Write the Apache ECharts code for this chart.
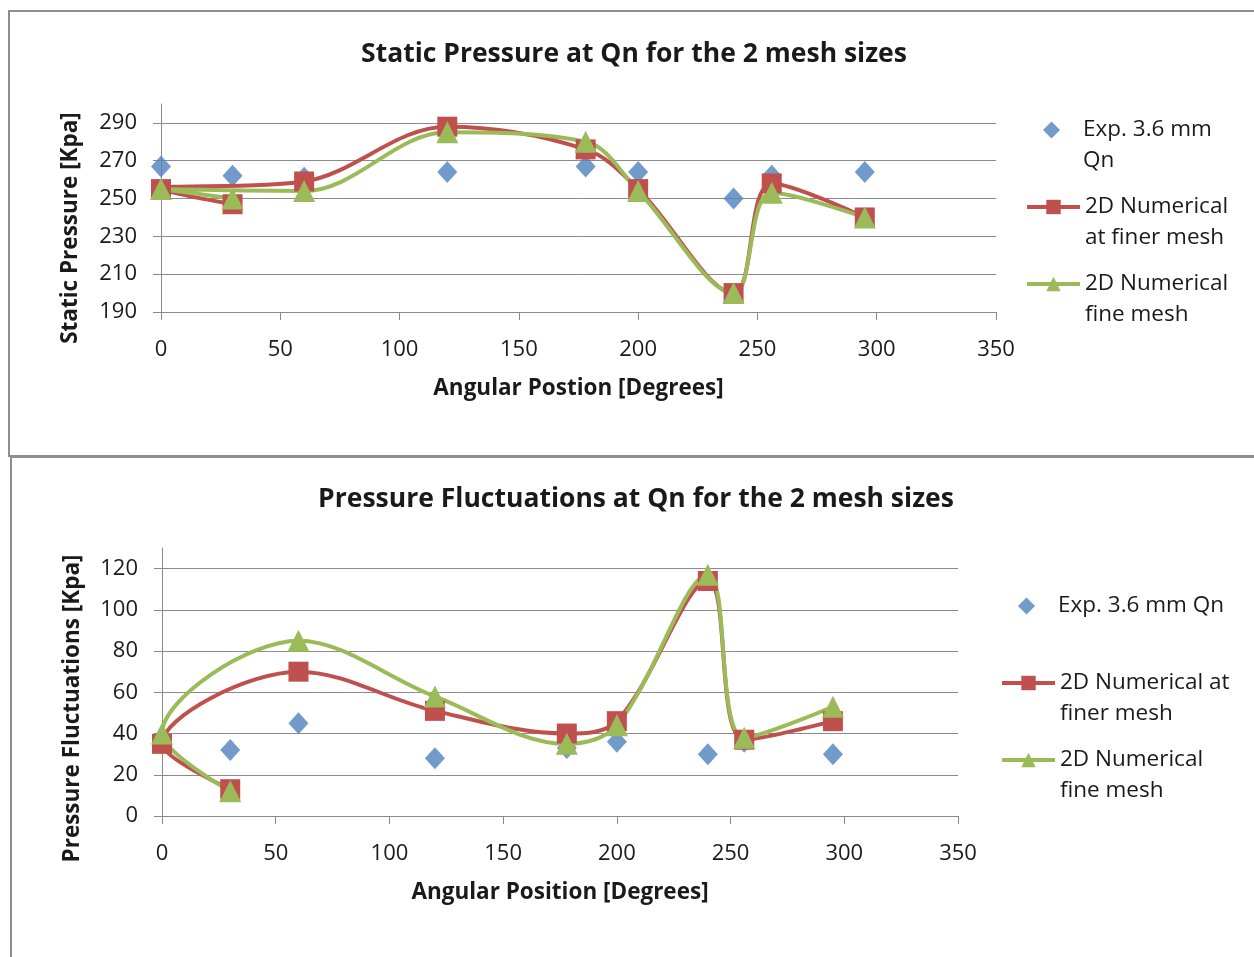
<!DOCTYPE html>
<html>
<head>
<meta charset="utf-8">
<script src="https://cdn.jsdelivr.net/npm/echarts@6/dist/echarts.min.js"></script>
<style>
  html, body { margin: 0; padding: 0; background: #fff; width: 1254px; height: 957px; overflow: hidden; }
  .frame { position: absolute; box-sizing: border-box; border: 2px solid #8e8e8e; background: #fff; }
  #static_chart { left: 8px; top: 10px; width: 1252px; height: 447px; }
  #fluct_chart { left: 10px; top: 456px; width: 1252px; height: 520px; }
</style>
</head>
<body>
<div id="static_chart" class="frame"></div>
<div id="fluct_chart" class="frame"></div>
<script>
// angular positions in the order the points were entered (30 comes first)
var angles = [30, 0, 60, 120, 178, 200, 240, 256, 295];

// static pressure [Kpa]
var static_exp = [262, 267, 261, 264, 267, 264, 250, 262, 264];
var static_finer = [247, 255, 259, 288, 276, 255, 200, 258, 240];
var static_fine = [250, 255, 254, 285, 280, 254, 200, 253, 240];
var static_ticks = [190, 210, 230, 250, 270, 290];

// pressure fluctuations [Kpa]
var fluct_exp = [32, 36, 45, 28, 33, 36, 30, 36, 30];
var fluct_finer = [13, 35, 70, 51, 40, 46, 114, 37, 46];
var fluct_fine = [12, 40, 85, 58, 35, 44, 117, 38, 53];
var fluct_ticks = [0, 20, 40, 60, 80, 100, 120];

var static_names = ['Exp. 3.6 mm\nQn', '2D Numerical\nat finer mesh', '2D Numerical\nfine mesh'];
var fluct_names = ['Exp. 3.6 mm Qn', '2D Numerical at\nfiner mesh', '2D Numerical\nfine mesh'];

var FONT = 'Open Sans';
var TEXT = '#1a1a1a';
var GRAY = '#8a8a8a';

function pairs(values) {
  var out = [];
  for (var i = 0; i < angles.length; i++) {
    out.push([angles[i], values[i]]);
  }
  return out;
}

function loadChart(dom_id, cfg) {
  var legends = [];
  cfg.names.forEach(function (name, i) {
    // the scatter entry gets a small square icon box, text pushed back in line
    var icon_w = i === 0 ? 17 : 53;
    legends.push({
      data: [name],
      orient: 'vertical',
      left: cfg.legendLeft + (53 - icon_w) / 2,
      top: cfg.legendTops[i],
      padding: 0,
      itemWidth: icon_w,
      itemHeight: i === 0 ? 17 : 18,
      selectedMode: false,
      lineStyle: { width: 4 },
      textStyle: {
        fontFamily: FONT, fontSize: 22.5, lineHeight: 31, color: TEXT,
        padding: [0, 0, 0, i === 0 ? (53 - icon_w) / 2 : 0]
      },
      formatter: function (n) {
        return n.indexOf('\n') >= 0 ? '\n' + n : n;
      }
    });
  });

  var option = {
    animation: false,
    title: {
      text: cfg.title,
      left: 'center',
      top: cfg.titleTop,
      textStyle: { fontFamily: FONT, fontSize: 26.5, fontWeight: 'bold', color: TEXT }
    },
    legend: legends,
    grid: cfg.grid,
    xAxis: {
      type: 'value',
      min: 0,
      max: 350,
      interval: 50,
      name: cfg.xName,
      nameLocation: 'middle',
      nameGap: cfg.xNameGap,
      nameTextStyle: { fontFamily: FONT, fontSize: 22.5, fontWeight: 'bold', color: TEXT },
      axisLine: { show: true, lineStyle: { color: GRAY, width: 1 } },
      axisTick: { show: true, inside: false, length: 8, lineStyle: { color: GRAY } },
      axisLabel: { margin: 27, fontFamily: FONT, fontSize: 22, color: TEXT },
      splitLine: { show: false }
    },
    yAxis: {
      type: 'value',
      min: cfg.yMin,
      max: cfg.yMax,
      name: cfg.yName,
      nameLocation: 'middle',
      nameGap: cfg.yNameGap,
      nameTextStyle: { fontFamily: FONT, fontSize: 22.5, fontWeight: 'bold', color: TEXT, padding: [0, cfg.yNameShift, 0, 0] },
      axisLine: { show: true, lineStyle: { color: GRAY, width: 1 } },
      axisTick: { show: true, inside: false, length: 8, customValues: cfg.yTicks, lineStyle: { color: GRAY } },
      axisLabel: { margin: 24, fontFamily: FONT, fontSize: 22, color: TEXT, customValues: cfg.yTicks },
      splitLine: { show: true, lineStyle: { color: GRAY, width: 1 } }
    },
    series: [
      {
        name: cfg.names[0],
        type: 'scatter',
        symbol: 'diamond',
        symbolSize: [20, 22],
        itemStyle: { color: '#4F81BD' },
        data: pairs(cfg.exp)
      },
      {
        name: cfg.names[1],
        type: 'line',
        smooth: 0.35,
        symbol: 'rect',
        symbolSize: 20,
        showSymbol: true,
        lineStyle: { width: 4, color: '#C0504D' },
        itemStyle: { color: '#C0504D' },
        data: pairs(cfg.finer)
      },
      {
        name: cfg.names[2],
        type: 'line',
        smooth: 0.35,
        symbol: 'triangle',
        symbolSize: 22,
        showSymbol: true,
        lineStyle: { width: 4, color: '#9BBB59' },
        itemStyle: { color: '#9BBB59' },
        data: pairs(cfg.fine)
      }
    ]
  };

  echarts.init(document.getElementById(dom_id)).setOption(option);
}

loadChart('static_chart', {
  title: 'Static Pressure at Qn for the 2 mesh sizes',
  titleTop: 24,
  names: static_names,
  exp: static_exp, finer: static_finer, fine: static_fine,
  yMin: 190, yMax: 300, yTicks: static_ticks,
  yName: 'Static Pressure [Kpa]', yNameGap: 79, yNameShift: 40,
  xName: 'Angular Postion [Degrees]', xNameGap: 65,
  grid: { left: 151, top: 92, width: 835, height: 208 },
  legendLeft: 1015,
  legendTops: [71.5, 148.5, 225.5]
});

loadChart('fluct_chart', {
  title: 'Pressure Fluctuations at Qn for the 2 mesh sizes',
  titleTop: 23,
  names: fluct_names,
  exp: fluct_exp, finer: fluct_finer, fine: fluct_fine,
  yMin: 0, yMax: 130, yTicks: fluct_ticks,
  yName: 'Pressure Fluctuations [Kpa]', yNameGap: 78, yNameShift: 53,
  xName: 'Angular Position [Degrees]', xNameGap: 65,
  grid: { left: 150, top: 90, width: 796, height: 268 },
  legendLeft: 988,
  legendTops: [132.5, 178.5, 255.5]
});
</script>
</body>
</html>
